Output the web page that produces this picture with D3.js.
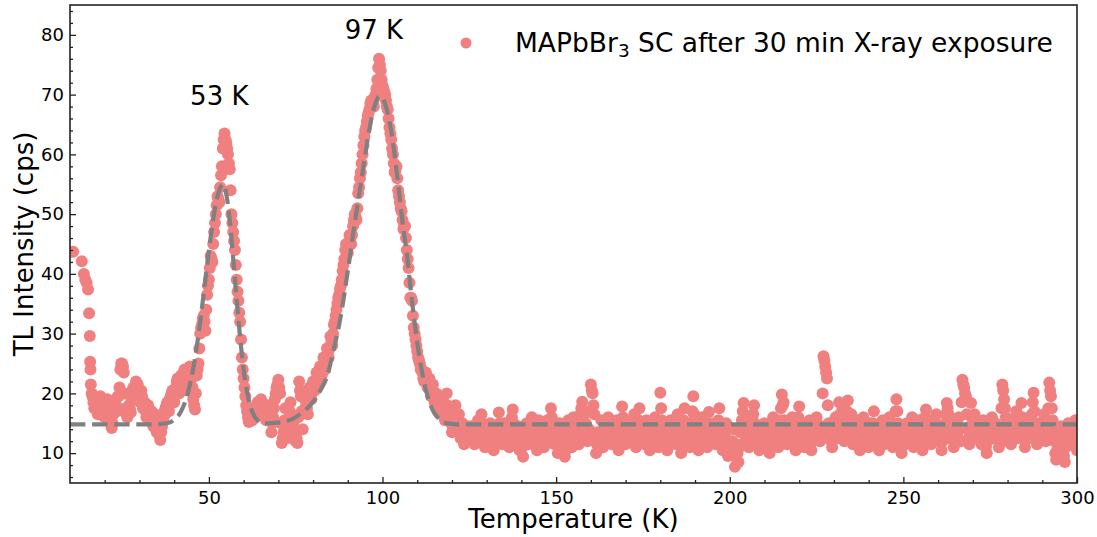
<!DOCTYPE html>
<html>
<head>
<meta charset="utf-8">
<script src="https://d3js.org/d3.v7.min.js"></script>
<style>
  html, body { margin: 0; padding: 0; background: #fff; }
  svg text { font-family: "DejaVu Sans", sans-serif; fill: #000; }
</style>
</head>
<body>
<div id="chart"></div>
<script>
// first few readings come at irregular temperatures
const earlyTemps = [10.9, 13.4, 14.0, 14.4, 14.8, 15.2, 15.5, 15.7, 15.8, 15.9];
const earlyCounts = [43.7, 42.1, 40.0, 39.0, 38.5, 37.4, 33.4, 29.6, 25.3, 24.0];

// after that, readings every 0.5 K from 16 K up to 300 K
const gridStart = 16;
const gridStep = 0.5;
const gridCounts = [
  21.5, 19.5, 17.5, 19.0, 16.5, 18.5, 17.0, 19.0, 16.0, 18.0, 15.5, 17.5, 14.2, 16.5, 18.5, 17.0, 19.5, 24.0, 25.0, 23.5, // 16
  17.5, 16.0, 18.0, 16.8, 20.5, 19.5, 22.0, 21.5, 19.5, 20.5, 17.5, 18.5, 16.0, 18.0, 15.5, 17.0, 14.5, 16.5, 13.5, 15.0, // 26
  12.2, 14.5, 16.0, 17.5, 18.5, 17.0, 19.5, 20.5, 18.5, 21.0, 22.5, 20.0, 23.0, 21.5, 24.0, 22.0, 20.5, 24.5, 22.5, 19.0, // 36
  17.3, 23.0, 25.0, 30.0, 31.5, 33.0, 30.5, 36.5, 39.0, 43.0, 42.0, 47.0, 50.0, 53.0, 52.0, 56.5, 61.0, 63.5, 62.0, 60.0, // 46
  57.5, 50.0, 47.0, 44.0, 39.0, 35.5, 32.0, 26.0, 22.5, 19.5, 17.0, 15.2, 16.0, 15.5, 17.5, 16.0, 18.5, 17.0, 19.0, 18.0, // 56
  17.0, 15.5, 18.0, 17.0, 13.5, 16.0, 19.0, 21.0, 22.3, 20.0, 11.7, 13.5, 17.5, 12.5, 15.5, 18.5, 14.0, 16.0, 12.0, 11.7, // 66
  22.0, 19.5, 14.0, 20.0, 18.0, 16.5, 21.0, 19.0, 22.0, 20.5, 23.5, 22.0, 24.5, 23.0, 26.0, 24.0, 27.5, 26.0, 29.5, 28.0, // 76
  31.5, 33.0, 35.0, 36.5, 38.0, 40.5, 42.5, 45.0, 43.5, 46.5, 45.0, 48.0, 50.0, 49.0, 53.5, 56.0, 58.5, 61.5, 64.0, 65.5, // 86
  67.0, 68.5, 69.0, 68.0, 70.0, 72.5, 76.0, 74.0, 71.5, 70.5, 69.0, 67.5, 64.5, 62.5, 60.0, 57.0, 58.0, 54.0, 52.0, 50.5, // 96
  47.5, 48.0, 44.0, 41.0, 36.0, 35.5, 31.0, 29.0, 27.0, 25.5, 24.0, 23.5, 22.0, 23.5, 21.0, 22.5, 19.5, 21.5, 18.5, 20.0, // 106
  17.5, 19.5, 16.5, 18.5, 15.5, 20.0, 16.0, 17.0, 13.5, 15.5, 18.0, 14.0, 16.5, 12.5, 15.0, 11.5, 13.5, 14.5, 12.0, 13.0, // 116
  14.5, 11.5, 13.0, 15.5, 12.0, 16.5, 13.5, 11.0, 14.0, 12.5, 15.0, 13.0, 10.5, 14.5, 12.0, 16.8, 13.5, 11.5, 15.0, 12.5, // 126
  14.0, 11.0, 15.5, 17.3, 13.0, 12.0, 14.5, 10.5, 13.5, 9.4, 12.5, 15.0, 11.5, 14.0, 16.0, 12.0, 13.5, 10.5, 15.5, 12.5,  // 136
  14.0, 11.0, 13.0, 15.5, 12.0, 17.5, 14.5, 11.5, 13.5, 10.0, 15.0, 12.5, 14.0, 9.4, 12.0, 15.5, 13.0, 11.0, 16.0, 12.5,  // 146
  14.5, 11.5, 16.5, 18.6, 13.0, 15.0, 12.0, 14.0, 21.5, 20.0, 16.5, 10.0, 13.5, 12.0, 15.5, 11.0, 14.0, 12.5, 16.0, 13.0, // 156
  11.5, 14.5, 12.0, 15.5, 10.5, 13.5, 17.8, 14.0, 11.5, 13.0, 15.0, 12.0, 14.5, 16.5, 11.0, 13.5, 17.5, 12.5, 14.0, 11.5, // 166
  15.5, 13.0, 10.5, 14.5, 12.0, 16.0, 13.5, 11.0, 20.1, 15.5, 12.5, 14.0, 10.5, 13.0, 15.5, 12.0, 14.5, 11.5, 16.5, 13.0, // 176
  10.0, 14.0, 17.5, 12.5, 13.5, 11.0, 15.0, 19.5, 14.0, 12.0, 10.5, 13.5, 16.0, 12.5, 14.5, 11.0, 16.9, 13.5, 12.0, 15.0, // 186
  11.5, 14.0, 17.5, 12.5, 10.5, 13.0, 15.0, 9.5, 12.0, 10.0, 14.0, 7.7, 11.5, 8.5, 13.5, 15.5, 18.4, 12.0, 14.5, 11.0,    // 196
  13.0, 15.5, 18.0, 12.0, 14.0, 10.5, 13.5, 11.5, 15.0, 12.5, 14.5, 10.0, 13.0, 16.0, 12.0, 14.5, 11.0, 15.5, 19.8, 18.5, // 206
  13.5, 11.5, 14.5, 12.0, 16.0, 13.0, 10.5, 14.0, 17.8, 12.5, 15.0, 11.0, 13.5, 12.0, 15.5, 10.5, 14.0, 12.5, 16.0, 13.5, // 216
  12.0, 14.5, 26.2, 24.5, 22.5, 15.0, 13.0, 11.0, 14.5, 16.0, 12.5, 18.5, 14.0, 17.5, 12.0, 15.0, 18.8, 13.5, 16.5, 11.5, // 226
  14.0, 12.0, 15.5, 10.5, 13.5, 16.0, 12.5, 14.0, 11.0, 15.0, 13.0, 17.0, 12.0, 14.5, 10.5, 13.5, 15.5, 11.5, 14.0, 12.5, // 236
  16.0, 13.0, 11.0, 14.5, 19.0, 15.0, 12.0, 10.0, 13.5, 11.5, 15.0, 12.5, 14.0, 16.0, 11.0, 13.5, 12.0, 15.5, 13.0, 10.5, // 246
  14.5, 17.3, 12.5, 14.0, 11.5, 15.5, 13.0, 16.5, 12.0, 14.0, 10.5, 13.5, 15.0, 18.4, 16.5, 12.5, 14.5, 11.0, 15.5, 13.0, // 256
  16.0, 12.0, 22.3, 21.0, 19.5, 14.0, 11.5, 18.4, 13.0, 16.5, 12.5, 15.0, 14.0, 11.5, 15.5, 12.0, 10.0, 14.0, 13.0, 16.0, // 266
  12.5, 15.0, 13.5, 11.0, 14.5, 21.5, 19.0, 16.0, 12.0, 14.5, 11.5, 15.5, 13.0, 17.0, 12.5, 14.0, 18.4, 13.5, 11.0, 15.0, // 276
  12.5, 14.5, 16.5, 20.1, 13.0, 11.5, 15.0, 12.5, 14.0, 16.5, 12.0, 14.5, 21.8, 19.5, 15.5, 12.0, 8.9, 13.5, 10.5, 14.5,  // 286
  10.5, 8.5, 13.0, 15.0, 11.5, 14.0, 12.5, 15.5, 10.5                                                                     // 296
];

// the in-between readings, 16.25 K, 16.75 K, ... 299.75 K
const midStart = 16.25;
const midCounts = [
  20.0, 18.5, 18.0, 17.5, 17.0, 19.5, 18.0, 16.5, 17.5, 19.0, 16.5, 16.0, 15.0, 17.5, 18.0, 19.5, 21.0, 25.0, 24.5, 20.0, // 16.25
  16.5, 17.0, 17.5, 19.0, 21.0, 20.5, 21.0, 20.0, 18.5, 19.5, 18.0, 17.0, 17.5, 16.5, 16.5, 15.5, 15.5, 14.0, 14.5, 13.0, // 26.25
  13.5, 15.5, 17.0, 18.0, 18.0, 19.0, 20.0, 19.5, 20.5, 22.0, 21.5, 22.5, 22.0, 23.5, 23.0, 21.0, 23.0, 23.5, 21.0, 18.0, // 36.25
  20.0, 24.0, 27.5, 31.0, 32.5, 32.0, 34.0, 38.0, 41.0, 42.5, 45.0, 48.5, 51.5, 52.5, 54.5, 58.0, 62.5, 62.5, 61.0, 58.5, // 46.25
  54.0, 48.5, 45.5, 41.5, 37.0, 33.5, 29.0, 24.0, 21.0, 18.0, 16.0, 15.5, 16.5, 16.5, 17.0, 17.5, 17.5, 18.0, 18.5, 17.5, // 56.25
  16.5, 16.5, 17.5, 15.5, 15.0, 17.5, 20.0, 21.5, 21.0, 15.0, 12.5, 15.5, 15.0, 14.0, 17.0, 16.5, 15.0, 14.0, 12.5, 16.0, // 66.25
  20.5, 17.0, 17.0, 19.0, 17.5, 19.0, 20.0, 20.5, 21.0, 22.0, 22.5, 23.0, 23.5, 24.5, 25.0, 25.5, 26.5, 27.5, 28.5, 30.0, // 76.25
  32.0, 34.0, 36.0, 37.5, 39.0, 41.5, 44.0, 44.0, 45.0, 46.0, 46.5, 49.0, 49.5, 51.0, 54.5, 57.0, 60.0, 63.0, 64.5, 66.5, // 86.25
  67.5, 69.0, 68.5, 69.5, 71.0, 74.5, 75.0, 72.5, 71.0, 70.0, 68.0, 66.0, 63.5, 61.0, 58.5, 57.5, 56.0, 53.0, 51.0, 49.0, // 96.25
  48.0, 46.0, 42.5, 38.5, 36.0, 33.0, 30.0, 28.0, 26.0, 25.0, 24.0, 22.5, 23.0, 22.0, 21.5, 21.0, 20.5, 20.0, 19.5, 19.0, // 106.25
  18.5, 18.0, 17.5, 17.0, 17.5, 18.0, 16.5, 15.0, 14.5, 16.5, 16.0, 15.0, 14.5, 14.0, 13.5, 12.5, 14.0, 13.0, 12.5, 14.5, // 116.25
  13.0, 12.5, 14.5, 14.0, 13.5, 15.0, 12.0, 12.5, 13.0, 14.0, 13.5, 11.5, 12.0, 13.0, 14.5, 15.0, 12.5, 13.5, 13.5, 14.0, // 126.25
  12.5, 13.0, 16.0, 15.0, 12.5, 13.5, 12.0, 11.5, 11.0, 11.5, 14.0, 13.5, 12.5, 15.0, 14.0, 13.0, 12.0, 13.5, 14.0, 13.5, // 136.25
  12.5, 12.0, 14.5, 14.0, 15.0, 16.0, 13.0, 12.5, 12.0, 11.5, 13.5, 13.5, 11.5, 10.5, 13.5, 14.0, 12.0, 13.0, 14.5, 13.5, // 146.25
  13.0, 14.0, 17.5, 16.0, 14.0, 13.5, 13.0, 17.0, 20.5, 18.0, 13.0, 11.5, 12.5, 13.5, 13.5, 12.5, 13.0, 14.5, 14.5, 12.0, // 156.25
  13.0, 13.5, 13.5, 13.0, 12.0, 15.5, 16.0, 12.5, 12.5, 14.0, 13.5, 13.0, 15.5, 14.0, 12.0, 15.5, 15.0, 13.0, 12.5, 13.5, // 166.25
  14.0, 11.5, 12.0, 13.0, 14.0, 14.5, 12.0, 14.5, 17.5, 13.5, 13.0, 12.0, 11.5, 14.0, 14.0, 13.0, 13.0, 13.5, 15.0, 11.5, // 176.25
  12.0, 15.5, 15.0, 13.0, 12.0, 13.0, 17.0, 16.5, 13.0, 11.0, 12.0, 15.0, 14.0, 13.5, 12.5, 14.0, 15.0, 12.5, 13.5, 13.0, // 186.25
  13.0, 15.5, 15.0, 11.5, 11.5, 14.0, 12.0, 10.5, 11.0, 12.0, 9.5, 9.5, 10.0, 11.0, 14.5, 17.0, 15.5, 13.0, 13.0, 12.0,   // 196.25
  14.5, 16.5, 15.0, 13.0, 12.0, 12.0, 12.5, 13.5, 13.5, 13.5, 12.0, 11.5, 14.5, 14.0, 13.0, 12.5, 13.5, 17.5, 18.0, 15.5, // 206.25
  12.5, 13.0, 13.0, 14.0, 14.5, 11.5, 12.5, 16.0, 15.0, 13.5, 13.0, 12.5, 12.5, 14.0, 13.0, 12.0, 13.5, 14.5, 14.5, 12.5, // 216.25
  13.0, 20.0, 25.5, 23.5, 18.0, 14.0, 12.0, 12.5, 15.5, 14.0, 15.5, 16.5, 16.0, 14.5, 13.5, 17.0, 16.5, 15.0, 13.5, 13.0, // 226.25
  13.0, 14.0, 13.0, 12.0, 15.0, 14.5, 13.0, 12.5, 13.0, 14.0, 15.0, 14.5, 13.0, 12.5, 12.0, 14.5, 13.5, 12.5, 13.0, 14.5, // 236.25
  14.5, 12.0, 12.5, 17.0, 17.0, 13.5, 11.0, 11.5, 12.5, 13.5, 14.0, 13.0, 15.0, 13.5, 12.0, 13.0, 14.0, 14.0, 11.5, 12.5, // 246.25
  16.0, 15.0, 13.0, 12.5, 13.5, 14.5, 15.0, 14.5, 13.0, 12.0, 12.0, 14.5, 16.5, 17.5, 14.5, 13.5, 12.5, 13.0, 14.5, 14.5, // 256.25
  14.0, 18.5, 21.5, 20.0, 16.5, 12.5, 14.5, 16.0, 14.5, 14.5, 13.5, 14.5, 12.5, 13.5, 14.0, 11.0, 12.0, 13.5, 14.5, 14.0, // 266.25
  14.0, 14.0, 12.5, 13.0, 17.5, 20.5, 17.5, 14.0, 13.0, 13.0, 13.5, 14.5, 15.0, 15.0, 13.5, 16.0, 16.0, 12.5, 13.0, 13.5, // 276.25
  13.5, 15.5, 18.5, 17.0, 12.0, 13.5, 13.5, 13.5, 15.0, 14.0, 13.0, 17.5, 20.5, 17.5, 13.5, 10.0, 10.5, 12.0, 12.5, 12.0, // 286.25
  9.5, 11.0, 14.0, 13.0, 12.5, 13.0, 14.0, 12.5                                                                           // 296.25
];

// fitted glow curve
const fitTemps = [10, 34, 36, 38, 40, 42, 44, 46, 47, 48, 49, 50, 51, 52, 53, 54, 55, 56, 57, 58, 59, 60, 61, 62, 63, 64,
  65, 66, 70, 72, 74, 76, 78, 80, 82, 84, 86, 88, 90, 92, 94, 96, 97, 98, 99, 100, 101, 102, 103, 104, 105, 106, 107, 108,
  109, 110, 111, 112, 113, 114, 115, 116, 117, 118, 120, 122, 300];
const fitCounts = [14.8, 14.8, 14.9, 15.0, 15.6, 17.0, 20.2, 25.9, 29.8, 34.3, 39.1, 43.9, 48.2, 51.7, 54.0, 55.0, 53.4,
  49.0, 42.6, 35.7, 29.3, 24.0, 20.2, 17.7, 16.3, 15.5, 15.1, 15.0, 15.1, 15.3, 15.7, 16.4, 17.3, 18.6, 20.4, 22.8, 27.5,
  33.0, 40.5, 48.5, 56.0, 63.5, 66.5, 68.6, 69.7, 69.4, 68.0, 65.5, 62.0, 57.5, 52.5, 47.5, 43.5, 38.0, 33.0, 28.5, 24.8,
  21.8, 19.5, 17.8, 16.6, 15.9, 15.4, 15.1, 14.9, 14.8, 14.8];

const peakLabels = [
  { text: "53 K", t: 53, v: 68.2 },
  { text: "97 K", t: 97.5, v: 79.3 }
];
const xMajor = [50, 100, 150, 200, 250, 300];
const yMajor = [10, 20, 30, 40, 50, 60, 70, 80];
const legendLabel = ["MAPbBr", "3", " SC after 30 min X-ray exposure"];

const width = 1097, height = 537;
const margin = { top: 5, right: 20, bottom: 54, left: 70 };
const pointColor = "#F08080";

const data = earlyTemps.map((t, i) => ({ t: t, v: earlyCounts[i] }))
  .concat(gridCounts.map((v, i) => ({ t: gridStart + i * gridStep, v: v })))
  .concat(midCounts.map((v, i) => ({ t: midStart + i * gridStep, v: v })))
  .sort((a, b) => a.t - b.t);
const fit = fitTemps.map((t, i) => ({ t: t, v: fitCounts[i] }));

const svg = d3.select("#chart").append("svg")
  .attr("width", width)
  .attr("height", height);

const x = d3.scaleLinear().domain([10, 300]).range([margin.left, width - margin.right]);
const y = d3.scaleLinear().domain([5, 85]).range([height - margin.bottom, margin.top]);

svg.append("clipPath").attr("id", "plot-clip")
  .append("rect")
  .attr("x", x(10)).attr("y", y(85))
  .attr("width", x(300) - x(10)).attr("height", y(5) - y(85));

const plot = svg.append("g").attr("clip-path", "url(#plot-clip)");

plot.selectAll("circle.pt")
  .data(data)
  .join("circle")
  .attr("class", "pt")
  .attr("cx", d => x(d.t))
  .attr("cy", d => y(d.v))
  .attr("r", 6)
  .attr("fill", pointColor);

plot.append("path")
  .datum(fit)
  .attr("fill", "none")
  .attr("stroke", "#808080")
  .attr("stroke-width", 4.2)
  .attr("stroke-dasharray", "15.4,6.7")
  .attr("d", d3.line().x(d => x(d.t)).y(d => y(d.v)).curve(d3.curveMonotoneX));

// axes, ticks pointing inward
const xMinor = d3.range(20, 300, 10).filter(d => d % 50 !== 0);
const yMinor = d3.range(6, 85, 2).filter(d => d % 10 !== 0);

svg.append("g").attr("transform", `translate(0,${y(5)})`)
  .call(d3.axisBottom(x).tickValues(xMajor).tickSize(-6).tickPadding(8));
svg.append("g").attr("transform", `translate(0,${y(5)})`)
  .call(d3.axisBottom(x).tickValues(xMinor).tickSize(-3).tickFormat(""));
svg.append("g").attr("transform", `translate(${x(10)},0)`)
  .call(d3.axisLeft(y).tickValues(yMajor).tickSize(-6).tickPadding(6));
svg.append("g").attr("transform", `translate(${x(10)},0)`)
  .call(d3.axisLeft(y).tickValues(yMinor).tickSize(-3).tickFormat(""));

svg.selectAll(".domain").remove();
svg.selectAll(".tick line").attr("stroke", "#222").attr("stroke-width", 1.3);
svg.selectAll(".tick text").style("font-size", "18px").style("font-family", "DejaVu Sans");

svg.append("rect")
  .attr("x", x(10)).attr("y", y(85))
  .attr("width", x(300) - x(10)).attr("height", y(5) - y(85))
  .attr("fill", "none")
  .attr("stroke", "#222")
  .attr("stroke-width", 1.6);

svg.append("text")
  .attr("x", (x(10) + x(300)) / 2)
  .attr("y", 528)
  .attr("text-anchor", "middle")
  .style("font-size", "26px")
  .text("Temperature (K)");

svg.append("text")
  .attr("transform", `translate(33,${(y(5) + y(85)) / 2}) rotate(-90)`)
  .attr("text-anchor", "middle")
  .style("font-size", "26px")
  .text("TL Intensity (cps)");

svg.selectAll("text.peak")
  .data(peakLabels)
  .join("text")
  .attr("class", "peak")
  .attr("x", d => x(d.t))
  .attr("y", d => y(d.v))
  .attr("text-anchor", "middle")
  .style("font-size", "26px")
  .text(d => d.text);

// legend
svg.append("circle").attr("cx", 466).attr("cy", 43).attr("r", 5.5).attr("fill", pointColor);
const leg = svg.append("text").attr("x", 515).attr("y", 51.5).style("font-size", "26.5px");
leg.append("tspan").text(legendLabel[0]);
leg.append("tspan").attr("dy", 5).style("font-size", "18.5px").text(legendLabel[1]);
leg.append("tspan").attr("dy", -5).text(legendLabel[2]);
</script>
</body>
</html>
